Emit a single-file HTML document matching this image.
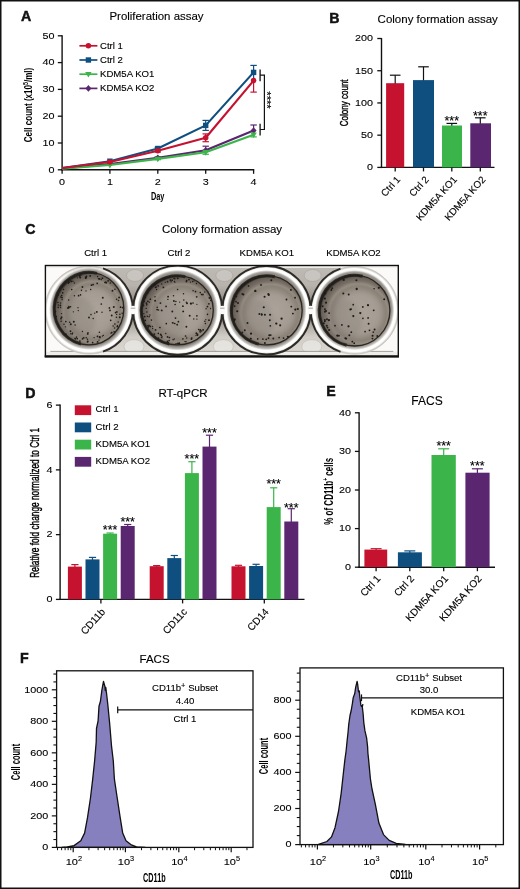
<!DOCTYPE html>
<html><head><meta charset="utf-8"><title>Figure</title>
<style>html,body{margin:0;padding:0;background:#fff}svg{display:block}text{font-family:"Liberation Sans",sans-serif}</style>
</head><body>
<div style="will-change:transform;width:520px;height:889px;overflow:hidden">
<svg width="520" height="889" viewBox="0 0 520 889" font-family='"Liberation Sans", sans-serif'>
<rect x="0.00" y="0.00" width="520.00" height="889.00" fill="#fff" stroke="none" stroke-width="0"/>
<text x="20.9" y="21.2" font-size="14.2" font-weight="bold" fill="#111" stroke="#111" stroke-width="0.45">A</text>
<text x="156.5" y="20.3" font-size="11.45" text-anchor="middle" font-weight="normal" fill="#000" stroke="#000" stroke-width="0.12">Proliferation assay</text>
<line x1="62.10" y1="35.35" x2="62.10" y2="170.50" stroke="#111" stroke-width="1.4" stroke-linecap="butt"/>
<line x1="61.40" y1="169.80" x2="254.25" y2="169.80" stroke="#111" stroke-width="1.4" stroke-linecap="butt"/>
<line x1="57.80" y1="169.80" x2="62.10" y2="169.80" stroke="#111" stroke-width="1.3" stroke-linecap="butt"/>
<text transform="translate(54.40 172.60) scale(1.15 1)" font-size="9.4" text-anchor="end" fill="#000" stroke="#000" stroke-width="0.1">0</text>
<line x1="57.80" y1="143.00" x2="62.10" y2="143.00" stroke="#111" stroke-width="1.3" stroke-linecap="butt"/>
<text transform="translate(54.40 145.80) scale(1.15 1)" font-size="9.4" text-anchor="end" fill="#000" stroke="#000" stroke-width="0.1">10</text>
<line x1="57.80" y1="116.20" x2="62.10" y2="116.20" stroke="#111" stroke-width="1.3" stroke-linecap="butt"/>
<text transform="translate(54.40 119.00) scale(1.15 1)" font-size="9.4" text-anchor="end" fill="#000" stroke="#000" stroke-width="0.1">20</text>
<line x1="57.80" y1="89.40" x2="62.10" y2="89.40" stroke="#111" stroke-width="1.3" stroke-linecap="butt"/>
<text transform="translate(54.40 92.20) scale(1.15 1)" font-size="9.4" text-anchor="end" fill="#000" stroke="#000" stroke-width="0.1">30</text>
<line x1="57.80" y1="62.60" x2="62.10" y2="62.60" stroke="#111" stroke-width="1.3" stroke-linecap="butt"/>
<text transform="translate(54.40 65.40) scale(1.15 1)" font-size="9.4" text-anchor="end" fill="#000" stroke="#000" stroke-width="0.1">40</text>
<line x1="57.80" y1="35.80" x2="62.10" y2="35.80" stroke="#111" stroke-width="1.3" stroke-linecap="butt"/>
<text transform="translate(54.40 38.60) scale(1.15 1)" font-size="9.4" text-anchor="end" fill="#000" stroke="#000" stroke-width="0.1">50</text>
<line x1="62.10" y1="169.80" x2="62.10" y2="173.80" stroke="#111" stroke-width="1.3" stroke-linecap="butt"/>
<text transform="translate(62.10 185.40) scale(1.15 1)" font-size="9.4" text-anchor="middle" fill="#000" stroke="#000" stroke-width="0.1">0</text>
<line x1="109.90" y1="169.80" x2="109.90" y2="173.80" stroke="#111" stroke-width="1.3" stroke-linecap="butt"/>
<text transform="translate(109.90 185.40) scale(1.15 1)" font-size="9.4" text-anchor="middle" fill="#000" stroke="#000" stroke-width="0.1">1</text>
<line x1="157.80" y1="169.80" x2="157.80" y2="173.80" stroke="#111" stroke-width="1.3" stroke-linecap="butt"/>
<text transform="translate(157.80 185.40) scale(1.15 1)" font-size="9.4" text-anchor="middle" fill="#000" stroke="#000" stroke-width="0.1">2</text>
<line x1="205.70" y1="169.80" x2="205.70" y2="173.80" stroke="#111" stroke-width="1.3" stroke-linecap="butt"/>
<text transform="translate(205.70 185.40) scale(1.15 1)" font-size="9.4" text-anchor="middle" fill="#000" stroke="#000" stroke-width="0.1">3</text>
<line x1="253.60" y1="169.80" x2="253.60" y2="173.80" stroke="#111" stroke-width="1.3" stroke-linecap="butt"/>
<text transform="translate(253.60 185.40) scale(1.15 1)" font-size="9.4" text-anchor="middle" fill="#000" stroke="#000" stroke-width="0.1">4</text>
<text x="157.7" y="199.5" font-size="10.5" text-anchor="middle" font-weight="bold" fill="#000" textLength="13.5" lengthAdjust="spacingAndGlyphs">Day</text>
<text x="32" y="105" font-size="11.4" text-anchor="middle" font-weight="bold" fill="#000" transform="rotate(-90 32 105)" textLength="74.4" lengthAdjust="spacingAndGlyphs">Cell count (x10<tspan font-size="7.5" dy="-4.4">5</tspan><tspan dy="4.4">/ml)</tspan></text>
<line x1="157.80" y1="156.90" x2="157.80" y2="157.70" stroke="#5B2670" stroke-width="1.2" stroke-linecap="butt"/>
<line x1="154.60" y1="156.90" x2="161.00" y2="156.90" stroke="#5B2670" stroke-width="1.2" stroke-linecap="butt"/>
<line x1="205.70" y1="146.20" x2="205.70" y2="150.20" stroke="#5B2670" stroke-width="1.2" stroke-linecap="butt"/>
<line x1="202.50" y1="146.20" x2="208.90" y2="146.20" stroke="#5B2670" stroke-width="1.2" stroke-linecap="butt"/>
<line x1="253.60" y1="125.00" x2="253.60" y2="130.60" stroke="#5B2670" stroke-width="1.2" stroke-linecap="butt"/>
<line x1="250.40" y1="125.00" x2="256.80" y2="125.00" stroke="#5B2670" stroke-width="1.2" stroke-linecap="butt"/>
<polyline points="62.1,168.4 109.9,164.1 157.8,157.7 205.7,150.2 253.6,130.6" fill="none" stroke="#5B2670" stroke-width="2.15" stroke-linejoin="round"/>
<polygon points="106.9,164.1 109.9,160.8 112.9,164.1 109.9,167.4" fill="#5B2670"/>
<polygon points="154.8,157.7 157.8,154.4 160.8,157.7 157.8,161.0" fill="#5B2670"/>
<polygon points="202.7,150.2 205.7,146.9 208.7,150.2 205.7,153.5" fill="#5B2670"/>
<polygon points="250.6,130.6 253.6,127.3 256.6,130.6 253.6,133.9" fill="#5B2670"/>
<line x1="157.80" y1="158.90" x2="157.80" y2="159.70" stroke="#3BB54A" stroke-width="1.2" stroke-linecap="butt"/>
<line x1="154.60" y1="159.70" x2="161.00" y2="159.70" stroke="#3BB54A" stroke-width="1.2" stroke-linecap="butt"/>
<line x1="205.70" y1="152.30" x2="205.70" y2="154.30" stroke="#3BB54A" stroke-width="1.2" stroke-linecap="butt"/>
<line x1="202.50" y1="154.30" x2="208.90" y2="154.30" stroke="#3BB54A" stroke-width="1.2" stroke-linecap="butt"/>
<line x1="253.60" y1="134.70" x2="253.60" y2="136.90" stroke="#3BB54A" stroke-width="1.2" stroke-linecap="butt"/>
<line x1="250.40" y1="136.90" x2="256.80" y2="136.90" stroke="#3BB54A" stroke-width="1.2" stroke-linecap="butt"/>
<polyline points="62.1,168.6 109.9,165.0 157.8,158.9 205.7,152.3 253.6,134.7" fill="none" stroke="#3BB54A" stroke-width="2.15" stroke-linejoin="round"/>
<polygon points="106.7,162.8 113.1,162.8 109.9,168.4" fill="#3BB54A"/>
<polygon points="154.6,156.7 161.0,156.7 157.8,162.3" fill="#3BB54A"/>
<polygon points="202.5,150.1 208.9,150.1 205.7,155.7" fill="#3BB54A"/>
<polygon points="250.4,132.5 256.8,132.5 253.6,138.1" fill="#3BB54A"/>
<line x1="157.80" y1="147.30" x2="157.80" y2="148.50" stroke="#0F4F80" stroke-width="1.2" stroke-linecap="butt"/>
<line x1="154.60" y1="147.30" x2="161.00" y2="147.30" stroke="#0F4F80" stroke-width="1.2" stroke-linecap="butt"/>
<line x1="157.80" y1="148.50" x2="157.80" y2="149.70" stroke="#0F4F80" stroke-width="1.2" stroke-linecap="butt"/>
<line x1="154.60" y1="149.70" x2="161.00" y2="149.70" stroke="#0F4F80" stroke-width="1.2" stroke-linecap="butt"/>
<line x1="205.70" y1="120.40" x2="205.70" y2="125.40" stroke="#0F4F80" stroke-width="1.2" stroke-linecap="butt"/>
<line x1="202.50" y1="120.40" x2="208.90" y2="120.40" stroke="#0F4F80" stroke-width="1.2" stroke-linecap="butt"/>
<line x1="205.70" y1="125.40" x2="205.70" y2="130.40" stroke="#0F4F80" stroke-width="1.2" stroke-linecap="butt"/>
<line x1="202.50" y1="130.40" x2="208.90" y2="130.40" stroke="#0F4F80" stroke-width="1.2" stroke-linecap="butt"/>
<line x1="253.60" y1="65.40" x2="253.60" y2="72.40" stroke="#0F4F80" stroke-width="1.2" stroke-linecap="butt"/>
<line x1="250.40" y1="65.40" x2="256.80" y2="65.40" stroke="#0F4F80" stroke-width="1.2" stroke-linecap="butt"/>
<line x1="253.60" y1="72.40" x2="253.60" y2="79.40" stroke="#0F4F80" stroke-width="1.2" stroke-linecap="butt"/>
<polyline points="62.1,168.0 109.9,161.2 157.8,148.5 205.7,125.4 253.6,72.4" fill="none" stroke="#0F4F80" stroke-width="2.15" stroke-linejoin="round"/>
<rect x="107.2" y="158.5" width="5.4" height="5.4" fill="#0F4F80"/>
<rect x="155.1" y="145.8" width="5.4" height="5.4" fill="#0F4F80"/>
<rect x="203.0" y="122.7" width="5.4" height="5.4" fill="#0F4F80"/>
<rect x="250.9" y="69.7" width="5.4" height="5.4" fill="#0F4F80"/>
<line x1="157.80" y1="150.80" x2="157.80" y2="152.00" stroke="#C4122F" stroke-width="1.2" stroke-linecap="butt"/>
<line x1="154.60" y1="152.00" x2="161.00" y2="152.00" stroke="#C4122F" stroke-width="1.2" stroke-linecap="butt"/>
<line x1="157.80" y1="149.60" x2="157.80" y2="150.80" stroke="#C4122F" stroke-width="1.2" stroke-linecap="butt"/>
<line x1="154.60" y1="149.60" x2="161.00" y2="149.60" stroke="#C4122F" stroke-width="1.2" stroke-linecap="butt"/>
<line x1="205.70" y1="137.80" x2="205.70" y2="141.70" stroke="#C4122F" stroke-width="1.2" stroke-linecap="butt"/>
<line x1="202.50" y1="141.70" x2="208.90" y2="141.70" stroke="#C4122F" stroke-width="1.2" stroke-linecap="butt"/>
<line x1="205.70" y1="133.90" x2="205.70" y2="137.80" stroke="#C4122F" stroke-width="1.2" stroke-linecap="butt"/>
<line x1="202.50" y1="133.90" x2="208.90" y2="133.90" stroke="#C4122F" stroke-width="1.2" stroke-linecap="butt"/>
<line x1="253.60" y1="80.60" x2="253.60" y2="92.10" stroke="#C4122F" stroke-width="1.2" stroke-linecap="butt"/>
<line x1="250.40" y1="92.10" x2="256.80" y2="92.10" stroke="#C4122F" stroke-width="1.2" stroke-linecap="butt"/>
<polyline points="62.1,168.0 109.9,162.0 157.8,150.8 205.7,137.8 253.6,80.6" fill="none" stroke="#C4122F" stroke-width="2.15" stroke-linejoin="round"/>
<circle cx="109.9" cy="162.0" r="2.75" fill="#C4122F"/>
<circle cx="157.8" cy="150.8" r="2.75" fill="#C4122F"/>
<circle cx="205.7" cy="137.8" r="2.75" fill="#C4122F"/>
<circle cx="253.6" cy="80.6" r="2.75" fill="#C4122F"/>
<line x1="79.40" y1="45.80" x2="97.40" y2="45.80" stroke="#C4122F" stroke-width="1.7" stroke-linecap="butt"/>
<circle cx="88.4" cy="45.8" r="2.75" fill="#C4122F"/>
<text x="100" y="48.699999999999996" font-size="9.6" text-anchor="start" font-weight="normal" fill="#000" stroke="#000" stroke-width="0.12">Ctrl 1</text>
<line x1="79.40" y1="60.00" x2="97.40" y2="60.00" stroke="#0F4F80" stroke-width="1.7" stroke-linecap="butt"/>
<rect x="85.7" y="57.3" width="5.4" height="5.4" fill="#0F4F80"/>
<text x="100" y="62.9" font-size="9.6" text-anchor="start" font-weight="normal" fill="#000" stroke="#000" stroke-width="0.12">Ctrl 2</text>
<line x1="79.40" y1="74.20" x2="97.40" y2="74.20" stroke="#3BB54A" stroke-width="1.7" stroke-linecap="butt"/>
<polygon points="85.2,72.0 91.6,72.0 88.4,77.6" fill="#3BB54A"/>
<text x="100" y="77.1" font-size="9.6" text-anchor="start" font-weight="normal" fill="#000" stroke="#000" stroke-width="0.12">KDM5A KO1</text>
<line x1="79.40" y1="88.40" x2="97.40" y2="88.40" stroke="#5B2670" stroke-width="1.7" stroke-linecap="butt"/>
<polygon points="85.4,88.4 88.4,85.1 91.4,88.4 88.4,91.7" fill="#5B2670"/>
<text x="100" y="91.3" font-size="9.6" text-anchor="start" font-weight="normal" fill="#000" stroke="#000" stroke-width="0.12">KDM5A KO2</text>
<line x1="260.10" y1="69.40" x2="260.10" y2="81.30" stroke="#111" stroke-width="1.3" stroke-linecap="butt"/>
<line x1="260.10" y1="123.70" x2="260.10" y2="135.40" stroke="#111" stroke-width="1.3" stroke-linecap="butt"/>
<polyline points="260.1,75.2 264.4,75.2 264.4,129.5 260.1,129.5" fill="none" stroke="#111" stroke-width="1.2"/>
<text x="262.9" y="100" font-size="11.2" text-anchor="middle" font-weight="normal" fill="#000" transform="rotate(90 262.9 100)" stroke="#000" stroke-width="0.12">****</text>
<text x="329.2" y="22.8" font-size="14.2" font-weight="bold" fill="#111" stroke="#111" stroke-width="0.45">B</text>
<text x="437.7" y="23.3" font-size="11.5" text-anchor="middle" font-weight="normal" fill="#000" stroke="#000" stroke-width="0.12">Colony formation assay</text>
<line x1="381.50" y1="38.05" x2="381.50" y2="168.10" stroke="#111" stroke-width="1.4" stroke-linecap="butt"/>
<line x1="380.80" y1="167.40" x2="494.50" y2="167.40" stroke="#111" stroke-width="1.4" stroke-linecap="butt"/>
<line x1="377.30" y1="167.40" x2="381.50" y2="167.40" stroke="#111" stroke-width="1.3" stroke-linecap="butt"/>
<text transform="translate(373.00 170.20) scale(1.15 1)" font-size="9.4" text-anchor="end" fill="#000" stroke="#000" stroke-width="0.1">0</text>
<line x1="377.30" y1="135.18" x2="381.50" y2="135.18" stroke="#111" stroke-width="1.3" stroke-linecap="butt"/>
<text transform="translate(373.00 137.98) scale(1.15 1)" font-size="9.4" text-anchor="end" fill="#000" stroke="#000" stroke-width="0.1">50</text>
<line x1="377.30" y1="102.95" x2="381.50" y2="102.95" stroke="#111" stroke-width="1.3" stroke-linecap="butt"/>
<text transform="translate(373.00 105.75) scale(1.15 1)" font-size="9.4" text-anchor="end" fill="#000" stroke="#000" stroke-width="0.1">100</text>
<line x1="377.30" y1="70.73" x2="381.50" y2="70.73" stroke="#111" stroke-width="1.3" stroke-linecap="butt"/>
<text transform="translate(373.00 73.53) scale(1.15 1)" font-size="9.4" text-anchor="end" fill="#000" stroke="#000" stroke-width="0.1">150</text>
<line x1="377.30" y1="38.50" x2="381.50" y2="38.50" stroke="#111" stroke-width="1.3" stroke-linecap="butt"/>
<text transform="translate(373.00 41.30) scale(1.15 1)" font-size="9.4" text-anchor="end" fill="#000" stroke="#000" stroke-width="0.1">200</text>
<line x1="395.20" y1="75.20" x2="395.20" y2="84.20" stroke="#111" stroke-width="1.2" stroke-linecap="butt"/>
<line x1="389.90" y1="75.20" x2="400.50" y2="75.20" stroke="#111" stroke-width="1.2" stroke-linecap="butt"/>
<rect x="386.10" y="83.20" width="18.10" height="84.20" fill="#C4122F" stroke="none" stroke-width="0"/>
<line x1="395.20" y1="167.40" x2="395.20" y2="171.40" stroke="#111" stroke-width="1.3" stroke-linecap="butt"/>
<line x1="423.50" y1="66.80" x2="423.50" y2="81.10" stroke="#111" stroke-width="1.2" stroke-linecap="butt"/>
<line x1="418.20" y1="66.80" x2="428.80" y2="66.80" stroke="#111" stroke-width="1.2" stroke-linecap="butt"/>
<rect x="413.00" y="80.10" width="21.00" height="87.30" fill="#0F4F80" stroke="none" stroke-width="0"/>
<line x1="423.50" y1="167.40" x2="423.50" y2="171.40" stroke="#111" stroke-width="1.3" stroke-linecap="butt"/>
<line x1="451.80" y1="123.40" x2="451.80" y2="126.50" stroke="#111" stroke-width="1.2" stroke-linecap="butt"/>
<line x1="446.50" y1="123.40" x2="457.10" y2="123.40" stroke="#111" stroke-width="1.2" stroke-linecap="butt"/>
<rect x="442.00" y="125.50" width="20.00" height="41.90" fill="#3BB54A" stroke="none" stroke-width="0"/>
<line x1="451.80" y1="167.40" x2="451.80" y2="171.40" stroke="#111" stroke-width="1.3" stroke-linecap="butt"/>
<line x1="480.30" y1="117.80" x2="480.30" y2="124.30" stroke="#111" stroke-width="1.2" stroke-linecap="butt"/>
<line x1="475.00" y1="117.80" x2="485.60" y2="117.80" stroke="#111" stroke-width="1.2" stroke-linecap="butt"/>
<rect x="470.30" y="123.30" width="20.70" height="44.10" fill="#5B2670" stroke="none" stroke-width="0"/>
<line x1="480.30" y1="167.40" x2="480.30" y2="171.40" stroke="#111" stroke-width="1.3" stroke-linecap="butt"/>
<text x="451.8" y="125.2" font-size="12.5" text-anchor="middle" font-weight="normal" fill="#000" stroke="#000" stroke-width="0.12">***</text>
<text x="480.3" y="119.7" font-size="12.5" text-anchor="middle" font-weight="normal" fill="#000" stroke="#000" stroke-width="0.12">***</text>
<text x="348.4" y="102.8" font-size="11.6" text-anchor="middle" font-weight="normal" fill="#000" transform="rotate(-90 348.4 102.8)" textLength="46.8" lengthAdjust="spacingAndGlyphs" stroke="#000" stroke-width="0.4">Colony count</text>
<text x="401.0" y="179.9" font-size="9.8" text-anchor="end" font-weight="normal" fill="#000" transform="rotate(-48 401.0 179.9)" stroke="#000" stroke-width="0.12">Ctrl 1</text>
<text x="429.3" y="179.9" font-size="9.8" text-anchor="end" font-weight="normal" fill="#000" transform="rotate(-48 429.3 179.9)" stroke="#000" stroke-width="0.12">Ctrl 2</text>
<text x="457.6" y="179.9" font-size="9.8" text-anchor="end" font-weight="normal" fill="#000" transform="rotate(-48 457.6 179.9)" stroke="#000" stroke-width="0.12">KDM5A KO1</text>
<text x="486.1" y="179.9" font-size="9.8" text-anchor="end" font-weight="normal" fill="#000" transform="rotate(-48 486.1 179.9)" stroke="#000" stroke-width="0.12">KDM5A KO2</text>
<text x="25.2" y="233.9" font-size="14.2" font-weight="bold" fill="#111" stroke="#111" stroke-width="0.45">C</text>
<text x="222" y="232.8" font-size="11.5" text-anchor="middle" font-weight="normal" fill="#000" stroke="#000" stroke-width="0.12">Colony formation assay</text>
<text x="95.6" y="256.0" font-size="9.6" text-anchor="middle" font-weight="normal" fill="#000" stroke="#000" stroke-width="0.12">Ctrl 1</text>
<text x="179" y="256.0" font-size="9.6" text-anchor="middle" font-weight="normal" fill="#000" stroke="#000" stroke-width="0.12">Ctrl 2</text>
<text x="266.8" y="256.0" font-size="9.6" text-anchor="middle" font-weight="normal" fill="#000" stroke="#000" stroke-width="0.12">KDM5A KO1</text>
<text x="353.5" y="256.0" font-size="9.6" text-anchor="middle" font-weight="normal" fill="#000" stroke="#000" stroke-width="0.12">KDM5A KO2</text>
<defs>
<linearGradient id="pbg" x1="0" y1="0" x2="1" y2="0"><stop offset="0" stop-color="#ffffff"/><stop offset="0.12" stop-color="#f4f2ef"/><stop offset="0.25" stop-color="#b3aea7"/><stop offset="0.5" stop-color="#aaa59e"/><stop offset="0.75" stop-color="#b3aea7"/><stop offset="0.9" stop-color="#f2f0ed"/><stop offset="1" stop-color="#ffffff"/></linearGradient>
<linearGradient id="pbgv" x1="0" y1="0" x2="0" y2="1"><stop offset="0" stop-color="#bebab4"/><stop offset="0.22" stop-color="#b8b3ad"/><stop offset="0.36" stop-color="#9a958e"/><stop offset="0.45" stop-color="#625d58"/><stop offset="0.5" stop-color="#8a857f"/><stop offset="0.55" stop-color="#625d58"/><stop offset="0.64" stop-color="#aaa59e"/><stop offset="0.78" stop-color="#d0ccc6"/><stop offset="1" stop-color="#dedbd6"/></linearGradient>
<linearGradient id="pbg2" x1="0" y1="0" x2="0" y2="1"><stop offset="0" stop-color="#8f8a83" stop-opacity="0.55"/><stop offset="0.35" stop-color="#a09b94" stop-opacity="0.2"/><stop offset="0.6" stop-color="#ffffff" stop-opacity="0.25"/><stop offset="1" stop-color="#ffffff" stop-opacity="0.6"/></linearGradient>
<radialGradient id="wellg" cx="0.55" cy="0.55" r="0.55" fx="0.58" fy="0.52"><stop offset="0" stop-color="#a59c92"/><stop offset="0.45" stop-color="#9a9187"/><stop offset="0.7" stop-color="#8a8177"/><stop offset="0.77" stop-color="#948b81"/><stop offset="0.84" stop-color="#7b7269"/><stop offset="0.95" stop-color="#655d55"/><stop offset="1" stop-color="#2e2823"/></radialGradient>
<radialGradient id="ringg" cx="0.5" cy="0.5" r="0.5"><stop offset="0.80" stop-color="#7a756e"/><stop offset="0.865" stop-color="#bdb9b3"/><stop offset="0.905" stop-color="#ffffff"/><stop offset="0.95" stop-color="#ffffff"/><stop offset="0.985" stop-color="#d2cfc9"/><stop offset="1" stop-color="#b3afa9"/></radialGradient>
<filter id="bl" x="-5%" y="-5%" width="110%" height="110%"><feGaussianBlur stdDeviation="0.55"/></filter>
<filter id="bl2" x="-20%" y="-20%" width="140%" height="140%"><feGaussianBlur stdDeviation="2.2"/></filter>
<filter id="bl3" x="-20%" y="-20%" width="140%" height="140%"><feGaussianBlur stdDeviation="1.1"/></filter>
<clipPath id="pclip"><rect x="45.4" y="265.5" width="352.9" height="91.1"/></clipPath>
</defs>
<g clip-path="url(#pclip)">
<rect x="45.40" y="265.50" width="352.90" height="91.10" fill="#fbfaf8" stroke="none" stroke-width="0"/>
<g filter="url(#bl)">
<rect x="103.00" y="265.50" width="237.60" height="91.10" fill="url(#pbgv)" stroke="none" stroke-width="0"/>
<ellipse cx="135.0" cy="275.5" rx="8.5" ry="6" fill="#d2cec9" stroke="#9a958e" stroke-width="0.6" opacity="0.6"/>
<ellipse cx="134.0" cy="346.6" rx="10" ry="7" fill="#ecebe7" stroke="#b5b0a9" stroke-width="0.6" opacity="0.7"/>
<ellipse cx="224.3" cy="275.5" rx="8.5" ry="6" fill="#d2cec9" stroke="#9a958e" stroke-width="0.6" opacity="0.6"/>
<ellipse cx="223.3" cy="346.6" rx="10" ry="7" fill="#ecebe7" stroke="#b5b0a9" stroke-width="0.6" opacity="0.7"/>
<ellipse cx="312.7" cy="275.5" rx="8.5" ry="6" fill="#d2cec9" stroke="#9a958e" stroke-width="0.6" opacity="0.6"/>
<ellipse cx="311.7" cy="346.6" rx="10" ry="7" fill="#ecebe7" stroke="#b5b0a9" stroke-width="0.6" opacity="0.7"/>
<rect x="45.40" y="265.50" width="352.90" height="2.40" fill="#f2f0ed" stroke="none" stroke-width="0"/>
<rect x="45.40" y="351.60" width="352.90" height="5.00" fill="#efedea" stroke="none" stroke-width="0"/>
<line x1="50.40" y1="351.40" x2="393.30" y2="351.40" stroke="#8f8a83" stroke-width="0.8" stroke-linecap="butt"/>
<circle cx="89.0" cy="310.0" r="44.0" fill="url(#ringg)"/>
<circle cx="177.65" cy="310.2" r="44.6" fill="url(#ringg)"/>
<circle cx="266.5" cy="310.2" r="44.2" fill="url(#ringg)"/>
<circle cx="354.6" cy="310.3" r="43.9" fill="url(#ringg)"/>
<path d="M 103.0 268.3 A 44.0 44.0 0 0 1 103.0 351.7" fill="none" stroke="#2f2b27" stroke-width="1.9"/>
<circle cx="177.65" cy="310.2" r="44.6" fill="none" stroke="#2f2b27" stroke-width="1.9"/>
<circle cx="266.5" cy="310.2" r="44.2" fill="none" stroke="#2f2b27" stroke-width="1.9"/>
<path d="M 340.6 268.7 A 43.9 43.9 0 0 0 340.6 351.9" fill="none" stroke="#2f2b27" stroke-width="1.9"/>
<path d="M 103.0 268.3 A 44.0 44.0 0 1 0 103.0 351.7" fill="none" stroke="#c9c5bf" stroke-width="0.9"/>
<path d="M 340.6 268.7 A 43.9 43.9 0 1 1 340.6 351.9" fill="none" stroke="#c9c5bf" stroke-width="0.9"/>
<ellipse cx="133.0" cy="310" rx="3.2" ry="4.2" fill="#fbfaf8"/>
<line x1="130.82" y1="308.20" x2="135.22" y2="308.20" stroke="#6b665f" stroke-width="0.6" stroke-linecap="butt"/>
<ellipse cx="222.3" cy="310" rx="3.2" ry="4.2" fill="#fbfaf8"/>
<line x1="220.08" y1="308.20" x2="224.47" y2="308.20" stroke="#6b665f" stroke-width="0.6" stroke-linecap="butt"/>
<ellipse cx="310.7" cy="310" rx="3.2" ry="4.2" fill="#fbfaf8"/>
<line x1="308.50" y1="308.20" x2="312.90" y2="308.20" stroke="#6b665f" stroke-width="0.6" stroke-linecap="butt"/>
<ellipse cx="89.0" cy="306.0" rx="36.3" ry="37.400000000000006" fill="#8e8982" filter="url(#bl3)" opacity="0.9"/>
<ellipse cx="89.0" cy="308.6" rx="34.8" ry="36.2" fill="url(#wellg)"/>
<ellipse cx="93.0" cy="311.6" rx="23.799999999999997" ry="24.200000000000003" fill="#bdb7af" opacity="0.32" filter="url(#bl2)"/>
<ellipse cx="77.0" cy="318.6" rx="18.799999999999997" ry="22.200000000000003" fill="#7f7972" opacity="0.28" filter="url(#bl2)"/>
<path d="M 63.2 322.6 A 27.799999999999997 29.200000000000003 0 0 1 95.0 278.9" fill="none" stroke="#6f6a63" stroke-width="0.9" opacity="0.6" filter="url(#bl3)"/>
<ellipse cx="89.0" cy="308.6" rx="34.8" ry="36.2" fill="none" stroke="#2a2521" stroke-width="1.3"/>
<path d="M 81.0 344.0 A 33.9 35.300000000000004 0 0 1 97.0 273.4" fill="none" stroke="#211e1b" stroke-width="3.0" opacity="0.85"/>
<ellipse cx="177.3" cy="307.7" rx="37.5" ry="35.800000000000004" fill="#8e8982" filter="url(#bl3)" opacity="0.9"/>
<ellipse cx="177.3" cy="310.3" rx="36.0" ry="34.6" fill="url(#wellg)"/>
<ellipse cx="181.3" cy="313.3" rx="25.0" ry="22.6" fill="#bdb7af" opacity="0.32" filter="url(#bl2)"/>
<ellipse cx="165.3" cy="320.3" rx="20.0" ry="20.6" fill="#7f7972" opacity="0.28" filter="url(#bl2)"/>
<path d="M 150.3 324.3 A 29.0 27.6 0 0 1 183.3 282.2" fill="none" stroke="#6f6a63" stroke-width="0.9" opacity="0.6" filter="url(#bl3)"/>
<ellipse cx="177.3" cy="310.3" rx="36.0" ry="34.6" fill="none" stroke="#2a2521" stroke-width="1.3"/>
<path d="M 169.3 344.1 A 35.1 33.7 0 0 1 185.3 276.7" fill="none" stroke="#211e1b" stroke-width="3.0" opacity="0.85"/>
<ellipse cx="266.8" cy="307.7" rx="36.9" ry="35.800000000000004" fill="#8e8982" filter="url(#bl3)" opacity="0.9"/>
<ellipse cx="266.8" cy="310.3" rx="35.4" ry="34.6" fill="url(#wellg)"/>
<ellipse cx="270.8" cy="313.3" rx="24.4" ry="22.6" fill="#bdb7af" opacity="0.32" filter="url(#bl2)"/>
<ellipse cx="254.8" cy="320.3" rx="19.4" ry="20.6" fill="#7f7972" opacity="0.28" filter="url(#bl2)"/>
<path d="M 240.4 324.3 A 28.4 27.6 0 0 1 272.8 282.2" fill="none" stroke="#6f6a63" stroke-width="0.9" opacity="0.6" filter="url(#bl3)"/>
<ellipse cx="266.8" cy="310.3" rx="35.4" ry="34.6" fill="none" stroke="#2a2521" stroke-width="1.3"/>
<path d="M 258.8 344.1 A 34.5 33.7 0 0 1 274.8 276.7" fill="none" stroke="#211e1b" stroke-width="3.0" opacity="0.85"/>
<ellipse cx="354.6" cy="308.0" rx="36.8" ry="36.6" fill="#8e8982" filter="url(#bl3)" opacity="0.9"/>
<ellipse cx="354.6" cy="310.6" rx="35.3" ry="35.4" fill="url(#wellg)"/>
<ellipse cx="358.6" cy="313.6" rx="24.299999999999997" ry="23.4" fill="#bdb7af" opacity="0.32" filter="url(#bl2)"/>
<ellipse cx="342.6" cy="320.6" rx="19.299999999999997" ry="21.4" fill="#7f7972" opacity="0.28" filter="url(#bl2)"/>
<path d="M 328.3 324.6 A 28.299999999999997 28.4 0 0 1 360.6 281.7" fill="none" stroke="#6f6a63" stroke-width="0.9" opacity="0.6" filter="url(#bl3)"/>
<ellipse cx="354.6" cy="310.6" rx="35.3" ry="35.4" fill="none" stroke="#2a2521" stroke-width="1.3"/>
<path d="M 346.6 345.2 A 34.4 34.5 0 0 1 362.6 276.2" fill="none" stroke="#211e1b" stroke-width="3.0" opacity="0.85"/>
</g>
<g fill="#1f1c1a" filter="url(#bl)"><circle cx="60.6" cy="297.0" r="0.77"/><circle cx="58.2" cy="307.4" r="0.82"/><circle cx="79.9" cy="341.1" r="0.88"/><circle cx="119.8" cy="317.2" r="0.93"/><circle cx="87.5" cy="341.5" r="0.79"/><circle cx="86.3" cy="337.8" r="0.77"/><circle cx="105.7" cy="282.1" r="0.82"/><circle cx="72.9" cy="281.3" r="0.71"/><circle cx="122.7" cy="307.6" r="0.85"/><circle cx="82.5" cy="338.8" r="0.87"/><circle cx="106.2" cy="282.8" r="0.93"/><circle cx="79.9" cy="275.8" r="0.77"/><circle cx="58.1" cy="294.8" r="0.87"/><circle cx="85.7" cy="278.2" r="0.86"/><circle cx="83.7" cy="337.8" r="0.88"/><circle cx="62.1" cy="297.7" r="0.68"/><circle cx="110.9" cy="333.1" r="0.66"/><circle cx="86.2" cy="277.2" r="0.88"/><circle cx="61.0" cy="318.7" r="0.89"/><circle cx="114.6" cy="328.0" r="0.69"/><circle cx="65.4" cy="326.8" r="0.64"/><circle cx="62.1" cy="299.4" r="0.74"/><circle cx="118.5" cy="300.5" r="0.80"/><circle cx="79.6" cy="275.7" r="0.88"/><circle cx="99.8" cy="336.9" r="0.92"/><circle cx="116.6" cy="299.3" r="0.81"/><circle cx="85.5" cy="277.3" r="0.70"/><circle cx="87.6" cy="341.9" r="0.81"/><circle cx="102.4" cy="336.1" r="0.64"/><circle cx="61.8" cy="297.5" r="0.82"/><circle cx="87.5" cy="339.2" r="0.71"/><circle cx="61.1" cy="321.3" r="0.80"/><circle cx="70.5" cy="331.3" r="0.93"/><circle cx="77.5" cy="277.8" r="0.66"/><circle cx="116.9" cy="311.9" r="0.84"/><circle cx="122.2" cy="313.2" r="0.77"/><circle cx="75.5" cy="339.0" r="0.64"/><circle cx="86.5" cy="276.4" r="0.86"/><circle cx="97.6" cy="276.5" r="0.73"/><circle cx="114.9" cy="289.2" r="0.75"/><circle cx="110.3" cy="283.0" r="0.82"/><circle cx="62.9" cy="293.1" r="0.65"/><circle cx="120.6" cy="307.2" r="0.85"/><circle cx="86.2" cy="277.4" r="0.76"/><circle cx="117.4" cy="325.7" r="0.63"/><circle cx="63.5" cy="289.5" r="0.78"/><circle cx="87.9" cy="341.3" r="0.72"/><circle cx="79.7" cy="276.9" r="0.83"/><circle cx="62.6" cy="292.8" r="0.68"/><circle cx="99.5" cy="278.9" r="0.90"/><circle cx="76.5" cy="337.1" r="0.78"/><circle cx="108.1" cy="280.8" r="0.92"/><circle cx="103.3" cy="335.4" r="0.71"/><circle cx="64.0" cy="324.2" r="0.78"/><circle cx="104.8" cy="282.4" r="0.76"/><circle cx="116.7" cy="314.4" r="0.63"/><circle cx="69.5" cy="282.2" r="0.63"/><circle cx="74.4" cy="283.0" r="0.70"/><circle cx="116.4" cy="317.3" r="0.76"/><circle cx="71.3" cy="281.4" r="0.93"/><circle cx="99.0" cy="340.1" r="0.68"/><circle cx="61.5" cy="313.6" r="0.68"/><circle cx="72.3" cy="333.9" r="0.79"/><circle cx="90.2" cy="275.9" r="0.87"/><circle cx="117.3" cy="326.6" r="0.85"/><circle cx="61.6" cy="317.2" r="0.91"/><circle cx="61.7" cy="295.5" r="0.87"/><circle cx="56.4" cy="316.5" r="0.69"/><circle cx="102.4" cy="278.2" r="0.85"/><circle cx="112.5" cy="290.8" r="0.93"/><circle cx="80.3" cy="277.6" r="0.89"/><circle cx="114.9" cy="324.1" r="0.80"/><circle cx="70.7" cy="280.8" r="0.64"/><circle cx="68.9" cy="282.0" r="0.66"/><circle cx="60.4" cy="305.5" r="0.89"/><circle cx="119.1" cy="297.5" r="0.92"/><circle cx="94.1" cy="337.6" r="0.71"/><circle cx="68.3" cy="283.0" r="0.89"/><circle cx="77.2" cy="338.6" r="0.89"/><circle cx="97.6" cy="341.9" r="0.93"/><circle cx="58.3" cy="305.0" r="0.78"/><circle cx="119.9" cy="314.3" r="0.79"/><circle cx="98.5" cy="278.8" r="0.78"/><circle cx="118.2" cy="322.0" r="0.75"/><circle cx="55.6" cy="311.5" r="0.66"/><circle cx="101.2" cy="279.6" r="0.77"/><circle cx="99.7" cy="337.4" r="0.92"/><circle cx="72.6" cy="333.0" r="0.69"/><circle cx="75.0" cy="338.4" r="0.82"/><circle cx="60.6" cy="307.6" r="0.70"/><circle cx="60.5" cy="302.9" r="0.74"/><circle cx="70.9" cy="333.8" r="0.82"/><circle cx="57.9" cy="302.5" r="0.82"/><circle cx="92.6" cy="342.6" r="0.88"/><circle cx="81.0" cy="275.1" r="0.69"/><circle cx="65.9" cy="334.2" r="0.85"/><circle cx="113.1" cy="326.1" r="0.75"/><circle cx="111.8" cy="332.7" r="0.84"/><circle cx="97.5" cy="336.3" r="0.91"/><circle cx="114.1" cy="331.8" r="0.86"/><circle cx="81.4" cy="290.2" r="0.72"/><circle cx="94.7" cy="313.2" r="0.67"/><circle cx="68.9" cy="306.6" r="0.84"/><circle cx="93.2" cy="318.5" r="0.73"/><circle cx="113.8" cy="307.0" r="0.96"/><circle cx="96.8" cy="311.9" r="0.96"/><circle cx="90.7" cy="289.5" r="0.76"/><circle cx="70.5" cy="306.7" r="0.80"/><circle cx="110.0" cy="310.4" r="0.88"/><circle cx="99.4" cy="332.2" r="0.81"/><circle cx="69.7" cy="322.2" r="0.72"/><circle cx="78.0" cy="307.7" r="0.66"/><circle cx="97.2" cy="283.3" r="0.89"/><circle cx="71.7" cy="289.6" r="0.79"/><circle cx="68.0" cy="308.0" r="0.97"/><circle cx="87.7" cy="333.9" r="0.95"/><circle cx="93.1" cy="284.6" r="0.92"/><circle cx="102.8" cy="297.7" r="0.94"/><circle cx="91.5" cy="285.2" r="0.90"/><circle cx="86.0" cy="290.9" r="0.68"/><circle cx="73.4" cy="311.8" r="0.66"/><circle cx="78.6" cy="295.7" r="0.86"/><circle cx="101.3" cy="304.0" r="0.87"/><circle cx="80.5" cy="294.8" r="0.84"/><circle cx="73.8" cy="321.8" r="0.98"/><circle cx="82.4" cy="287.0" r="0.90"/><circle cx="115.6" cy="312.6" r="0.86"/><circle cx="88.0" cy="332.8" r="0.79"/><circle cx="91.0" cy="314.6" r="0.78"/><circle cx="89.0" cy="317.5" r="0.95"/><circle cx="68.9" cy="307.6" r="0.97"/><circle cx="109.4" cy="307.9" r="0.86"/><circle cx="110.7" cy="320.3" r="0.85"/><circle cx="111.7" cy="315.5" r="0.96"/><circle cx="78.3" cy="310.6" r="0.71"/><circle cx="74.4" cy="295.8" r="0.68"/><circle cx="65.8" cy="321.7" r="0.83"/><circle cx="75.1" cy="324.9" r="0.75"/><circle cx="68.6" cy="300.1" r="0.75"/><circle cx="82.4" cy="331.5" r="0.66"/><circle cx="102.0" cy="312.3" r="0.71"/><circle cx="70.8" cy="324.2" r="0.95"/></g>
<g fill="#1f1c1a" filter="url(#bl)"><circle cx="209.0" cy="320.2" r="0.92"/><circle cx="201.5" cy="294.6" r="0.77"/><circle cx="178.7" cy="343.7" r="0.92"/><circle cx="144.7" cy="316.6" r="0.88"/><circle cx="201.7" cy="331.0" r="0.77"/><circle cx="205.8" cy="319.6" r="0.66"/><circle cx="161.8" cy="284.0" r="0.70"/><circle cx="149.0" cy="325.4" r="0.79"/><circle cx="210.7" cy="300.5" r="0.70"/><circle cx="200.3" cy="292.6" r="0.82"/><circle cx="173.1" cy="339.8" r="0.80"/><circle cx="155.6" cy="287.2" r="0.68"/><circle cx="207.4" cy="306.6" r="0.90"/><circle cx="149.1" cy="316.8" r="0.82"/><circle cx="169.4" cy="337.5" r="0.84"/><circle cx="155.4" cy="287.6" r="0.77"/><circle cx="160.6" cy="334.4" r="0.89"/><circle cx="198.7" cy="329.5" r="0.82"/><circle cx="185.0" cy="341.6" r="0.70"/><circle cx="154.4" cy="334.1" r="0.94"/><circle cx="147.9" cy="301.4" r="0.91"/><circle cx="165.3" cy="282.4" r="0.65"/><circle cx="150.3" cy="299.2" r="0.84"/><circle cx="158.3" cy="333.4" r="0.83"/><circle cx="167.6" cy="336.9" r="0.84"/><circle cx="196.3" cy="333.2" r="0.85"/><circle cx="200.3" cy="330.4" r="0.80"/><circle cx="209.3" cy="298.1" r="0.76"/><circle cx="145.2" cy="320.4" r="0.92"/><circle cx="177.7" cy="343.2" r="0.74"/><circle cx="152.7" cy="328.5" r="0.68"/><circle cx="186.7" cy="280.7" r="0.89"/><circle cx="191.7" cy="338.1" r="0.90"/><circle cx="207.5" cy="314.4" r="0.79"/><circle cx="208.9" cy="303.8" r="0.88"/><circle cx="149.4" cy="302.2" r="0.65"/><circle cx="174.9" cy="282.2" r="0.65"/><circle cx="197.5" cy="335.0" r="0.83"/><circle cx="182.9" cy="338.9" r="0.79"/><circle cx="174.0" cy="278.3" r="0.84"/><circle cx="146.4" cy="303.2" r="0.85"/><circle cx="148.2" cy="327.9" r="0.83"/><circle cx="189.0" cy="279.6" r="0.90"/><circle cx="155.3" cy="284.6" r="0.85"/><circle cx="147.6" cy="325.6" r="0.67"/><circle cx="210.6" cy="308.5" r="0.67"/><circle cx="174.4" cy="281.5" r="0.64"/><circle cx="200.3" cy="329.8" r="0.87"/><circle cx="204.9" cy="321.3" r="0.81"/><circle cx="158.5" cy="337.9" r="0.69"/><circle cx="171.1" cy="281.8" r="0.69"/><circle cx="156.6" cy="289.5" r="0.72"/><circle cx="190.5" cy="282.1" r="0.70"/><circle cx="143.4" cy="305.4" r="0.93"/><circle cx="172.1" cy="280.2" r="0.88"/><circle cx="146.6" cy="305.1" r="0.71"/><circle cx="176.1" cy="343.8" r="0.77"/><circle cx="186.3" cy="281.7" r="0.81"/><circle cx="155.6" cy="329.9" r="0.90"/><circle cx="156.5" cy="287.0" r="0.71"/><circle cx="196.0" cy="335.3" r="0.62"/><circle cx="196.5" cy="283.5" r="0.65"/><circle cx="146.9" cy="312.1" r="0.77"/><circle cx="147.7" cy="293.1" r="0.72"/><circle cx="148.1" cy="326.4" r="0.65"/><circle cx="186.0" cy="341.7" r="0.79"/><circle cx="152.6" cy="326.3" r="0.64"/><circle cx="147.3" cy="316.3" r="0.74"/><circle cx="203.3" cy="329.9" r="0.77"/><circle cx="194.0" cy="281.0" r="0.62"/><circle cx="146.8" cy="304.3" r="0.77"/><circle cx="206.1" cy="308.8" r="0.69"/><circle cx="169.1" cy="340.6" r="0.79"/><circle cx="161.3" cy="335.4" r="0.83"/><circle cx="186.7" cy="338.1" r="0.73"/><circle cx="145.4" cy="297.5" r="0.73"/><circle cx="167.4" cy="341.4" r="0.84"/><circle cx="191.4" cy="339.1" r="0.89"/><circle cx="161.9" cy="337.7" r="0.66"/><circle cx="205.4" cy="323.6" r="0.76"/><circle cx="158.1" cy="285.8" r="0.88"/><circle cx="162.0" cy="336.4" r="0.62"/><circle cx="167.6" cy="281.7" r="0.87"/><circle cx="149.0" cy="326.3" r="0.73"/><circle cx="203.0" cy="329.8" r="0.78"/><circle cx="192.6" cy="281.5" r="0.67"/><circle cx="204.8" cy="291.9" r="0.73"/><circle cx="197.3" cy="334.1" r="0.94"/><circle cx="170.4" cy="280.3" r="0.68"/><circle cx="168.4" cy="342.4" r="0.70"/><circle cx="170.2" cy="280.0" r="0.74"/><circle cx="199.8" cy="331.7" r="0.66"/><circle cx="144.2" cy="301.4" r="0.80"/><circle cx="202.9" cy="294.5" r="0.88"/><circle cx="200.6" cy="332.0" r="0.71"/><circle cx="179.3" cy="343.2" r="0.89"/><circle cx="174.3" cy="338.9" r="0.68"/><circle cx="209.6" cy="297.9" r="0.72"/><circle cx="174.8" cy="278.8" r="0.81"/><circle cx="143.8" cy="313.6" r="0.67"/><circle cx="146.2" cy="308.4" r="0.70"/><circle cx="161.4" cy="337.3" r="0.63"/><circle cx="197.5" cy="335.3" r="0.81"/><circle cx="150.4" cy="326.4" r="0.84"/><circle cx="177.7" cy="278.2" r="0.94"/><circle cx="193.1" cy="290.8" r="0.79"/><circle cx="160.4" cy="303.1" r="0.95"/><circle cx="157.2" cy="307.2" r="0.80"/><circle cx="165.8" cy="333.5" r="0.68"/><circle cx="196.7" cy="296.8" r="0.89"/><circle cx="177.6" cy="289.4" r="0.76"/><circle cx="196.9" cy="319.1" r="0.70"/><circle cx="158.5" cy="310.0" r="0.79"/><circle cx="175.1" cy="304.5" r="0.83"/><circle cx="172.5" cy="322.7" r="0.79"/><circle cx="189.7" cy="315.8" r="0.95"/><circle cx="163.4" cy="287.4" r="0.94"/><circle cx="183.5" cy="293.8" r="0.73"/><circle cx="155.1" cy="300.8" r="0.95"/><circle cx="179.6" cy="302.1" r="0.70"/><circle cx="196.9" cy="304.3" r="0.66"/><circle cx="173.1" cy="323.0" r="0.76"/><circle cx="182.9" cy="306.2" r="0.92"/><circle cx="166.3" cy="323.6" r="0.85"/><circle cx="183.2" cy="311.4" r="0.95"/><circle cx="161.7" cy="310.4" r="0.96"/><circle cx="149.9" cy="314.9" r="0.73"/><circle cx="190.8" cy="303.4" r="0.95"/><circle cx="183.8" cy="300.1" r="0.77"/><circle cx="186.4" cy="326.7" r="0.94"/><circle cx="185.6" cy="336.0" r="0.86"/><circle cx="186.3" cy="302.2" r="0.68"/><circle cx="175.9" cy="301.6" r="0.76"/><circle cx="195.5" cy="291.6" r="0.89"/><circle cx="173.9" cy="301.0" r="0.96"/><circle cx="193.8" cy="318.9" r="0.73"/><circle cx="173.5" cy="295.8" r="0.72"/><circle cx="178.4" cy="321.7" r="0.87"/><circle cx="159.9" cy="327.5" r="0.87"/><circle cx="155.0" cy="296.7" r="0.73"/><circle cx="191.1" cy="303.7" r="0.87"/><circle cx="167.9" cy="299.4" r="0.69"/><circle cx="151.4" cy="320.1" r="0.83"/><circle cx="196.9" cy="315.8" r="0.85"/><circle cx="177.2" cy="324.7" r="0.92"/><circle cx="175.5" cy="318.1" r="0.90"/><circle cx="174.8" cy="323.5" r="0.84"/><circle cx="187.0" cy="303.3" r="0.98"/><circle cx="172.3" cy="311.5" r="0.90"/><circle cx="193.0" cy="303.1" r="0.82"/><circle cx="166.1" cy="306.4" r="0.87"/><circle cx="168.1" cy="296.7" r="0.91"/><circle cx="157.1" cy="309.6" r="0.93"/></g>
<g fill="#1f1c1a" filter="url(#bl)"><circle cx="234.6" cy="306.2" r="0.88"/><circle cx="283.6" cy="338.1" r="0.90"/><circle cx="271.3" cy="280.3" r="1.07"/><circle cx="238.0" cy="303.1" r="0.98"/><circle cx="243.4" cy="294.4" r="1.00"/><circle cx="264.9" cy="343.1" r="0.98"/><circle cx="248.5" cy="285.9" r="0.84"/><circle cx="236.1" cy="296.4" r="1.07"/><circle cx="262.9" cy="339.1" r="0.92"/><circle cx="236.0" cy="301.7" r="0.85"/><circle cx="250.8" cy="338.8" r="1.04"/><circle cx="234.8" cy="319.3" r="0.94"/><circle cx="237.2" cy="311.3" r="1.06"/><circle cx="287.9" cy="336.7" r="1.06"/><circle cx="268.5" cy="338.2" r="0.87"/><circle cx="257.7" cy="338.9" r="0.84"/><circle cx="295.3" cy="309.6" r="1.05"/><circle cx="266.2" cy="339.3" r="0.90"/><circle cx="295.1" cy="297.8" r="0.93"/><circle cx="234.2" cy="320.3" r="1.03"/><circle cx="251.0" cy="333.7" r="1.10"/><circle cx="290.9" cy="289.9" r="0.95"/><circle cx="242.3" cy="332.5" r="0.89"/><circle cx="279.1" cy="337.5" r="0.87"/><circle cx="273.3" cy="338.5" r="0.92"/><circle cx="297.8" cy="309.0" r="1.10"/><circle cx="242.4" cy="294.0" r="0.94"/><circle cx="244.8" cy="330.2" r="0.95"/><circle cx="261.0" cy="285.0" r="0.95"/><circle cx="276.3" cy="323.6" r="1.16"/><circle cx="268.4" cy="294.2" r="1.09"/><circle cx="292.9" cy="313.6" r="0.96"/><circle cx="281.6" cy="318.7" r="1.14"/><circle cx="268.8" cy="295.0" r="1.03"/><circle cx="261.7" cy="314.2" r="0.94"/><circle cx="270.1" cy="314.7" r="1.05"/><circle cx="264.9" cy="314.7" r="1.00"/><circle cx="280.2" cy="325.3" r="1.09"/><circle cx="264.6" cy="296.7" r="1.07"/><circle cx="269.8" cy="320.2" r="0.95"/><circle cx="247.5" cy="323.1" r="0.98"/><circle cx="270.7" cy="335.1" r="0.95"/><circle cx="270.3" cy="325.8" r="0.87"/><circle cx="263.8" cy="307.2" r="1.04"/><circle cx="291.3" cy="306.6" r="0.96"/><circle cx="286.5" cy="299.5" r="0.93"/><circle cx="255.3" cy="290.9" r="1.17"/><circle cx="269.3" cy="335.3" r="1.06"/><circle cx="259.4" cy="313.9" r="0.99"/><circle cx="261.8" cy="314.7" r="0.97"/></g>
<g fill="#1f1c1a" filter="url(#bl)"><circle cx="324.8" cy="320.0" r="0.95"/><circle cx="346.2" cy="338.7" r="0.91"/><circle cx="372.6" cy="335.7" r="1.02"/><circle cx="324.9" cy="321.2" r="0.92"/><circle cx="326.0" cy="311.0" r="0.99"/><circle cx="352.3" cy="341.7" r="0.91"/><circle cx="325.6" cy="293.6" r="0.86"/><circle cx="331.3" cy="290.0" r="0.92"/><circle cx="384.2" cy="299.3" r="1.00"/><circle cx="327.5" cy="327.6" r="0.89"/><circle cx="378.8" cy="287.8" r="1.09"/><circle cx="373.3" cy="332.1" r="0.90"/><circle cx="337.3" cy="335.7" r="0.87"/><circle cx="322.6" cy="306.2" r="0.93"/><circle cx="324.9" cy="311.8" r="0.98"/><circle cx="324.9" cy="298.6" r="1.11"/><circle cx="337.3" cy="335.5" r="0.90"/><circle cx="343.7" cy="279.9" r="1.11"/><circle cx="372.5" cy="338.6" r="0.96"/><circle cx="332.2" cy="288.2" r="0.97"/><circle cx="338.9" cy="335.8" r="0.96"/><circle cx="345.4" cy="338.2" r="1.03"/><circle cx="327.0" cy="319.3" r="0.95"/><circle cx="374.1" cy="288.8" r="0.82"/><circle cx="324.9" cy="309.2" r="0.93"/><circle cx="354.2" cy="343.2" r="0.90"/><circle cx="356.4" cy="280.3" r="1.07"/><circle cx="326.8" cy="325.8" r="1.00"/><circle cx="323.8" cy="323.2" r="1.01"/><circle cx="326.0" cy="302.7" r="1.10"/><circle cx="377.3" cy="336.0" r="0.93"/><circle cx="329.1" cy="330.0" r="1.12"/><circle cx="353.2" cy="304.7" r="0.88"/><circle cx="353.3" cy="316.1" r="1.07"/><circle cx="374.6" cy="329.5" r="0.95"/><circle cx="350.3" cy="309.4" r="0.99"/><circle cx="348.5" cy="326.3" r="1.10"/><circle cx="349.3" cy="335.3" r="0.97"/><circle cx="356.7" cy="289.0" r="1.15"/><circle cx="348.7" cy="294.4" r="1.01"/><circle cx="369.5" cy="330.3" r="0.90"/><circle cx="362.8" cy="306.9" r="0.92"/><circle cx="368.6" cy="323.8" r="0.94"/><circle cx="351.1" cy="309.1" r="0.89"/><circle cx="351.3" cy="332.2" r="0.91"/><circle cx="341.9" cy="324.9" r="0.92"/><circle cx="360.3" cy="313.1" r="1.13"/><circle cx="368.1" cy="317.9" r="0.90"/><circle cx="373.7" cy="310.3" r="0.90"/><circle cx="329.1" cy="313.1" r="0.97"/><circle cx="335.0" cy="325.7" r="0.86"/><circle cx="343.3" cy="293.5" r="1.04"/><circle cx="368.0" cy="305.2" r="1.12"/><circle cx="328.9" cy="320.2" r="1.11"/><circle cx="365.1" cy="331.6" r="0.85"/><circle cx="362.9" cy="318.3" r="0.86"/></g>
</g>
<rect x="45.4" y="265.5" width="352.9" height="91.1" fill="none" stroke="#111" stroke-width="1.4"/>
<line x1="44.70" y1="356.40" x2="399.00" y2="356.40" stroke="#111" stroke-width="2.2" stroke-linecap="butt"/>
<text x="25.3" y="398.1" font-size="14.2" font-weight="bold" fill="#111" stroke="#111" stroke-width="0.45">D</text>
<text x="183" y="397.4" font-size="11.5" text-anchor="middle" font-weight="normal" fill="#000" stroke="#000" stroke-width="0.12">RT-qPCR</text>
<line x1="60.10" y1="404.47" x2="60.10" y2="600.10" stroke="#111" stroke-width="1.4" stroke-linecap="butt"/>
<line x1="59.40" y1="599.40" x2="304.50" y2="599.40" stroke="#111" stroke-width="1.4" stroke-linecap="butt"/>
<line x1="55.90" y1="599.40" x2="60.10" y2="599.40" stroke="#111" stroke-width="1.3" stroke-linecap="butt"/>
<text transform="translate(52.40 602.20) scale(1.15 1)" font-size="9.4" text-anchor="end" fill="#000" stroke="#000" stroke-width="0.1">0</text>
<line x1="55.90" y1="534.64" x2="60.10" y2="534.64" stroke="#111" stroke-width="1.3" stroke-linecap="butt"/>
<text transform="translate(52.40 537.44) scale(1.15 1)" font-size="9.4" text-anchor="end" fill="#000" stroke="#000" stroke-width="0.1">2</text>
<line x1="55.90" y1="469.88" x2="60.10" y2="469.88" stroke="#111" stroke-width="1.3" stroke-linecap="butt"/>
<text transform="translate(52.40 472.68) scale(1.15 1)" font-size="9.4" text-anchor="end" fill="#000" stroke="#000" stroke-width="0.1">4</text>
<line x1="55.90" y1="405.12" x2="60.10" y2="405.12" stroke="#111" stroke-width="1.3" stroke-linecap="butt"/>
<text transform="translate(52.40 407.92) scale(1.15 1)" font-size="9.4" text-anchor="end" fill="#000" stroke="#000" stroke-width="0.1">6</text>
<text x="38.6" y="502.8" font-size="12.2" text-anchor="middle" font-weight="normal" fill="#000" transform="rotate(-90 38.6 502.8)" textLength="149.7" lengthAdjust="spacingAndGlyphs" stroke="#000" stroke-width="0.4">Relative fold change normalized to Ctrl 1</text>
<line x1="74.90" y1="564.60" x2="74.90" y2="567.60" stroke="#C4122F" stroke-width="1.2" stroke-linecap="butt"/>
<line x1="71.30" y1="564.60" x2="78.50" y2="564.60" stroke="#C4122F" stroke-width="1.2" stroke-linecap="butt"/>
<rect x="67.90" y="566.60" width="14.00" height="32.80" fill="#C4122F" stroke="none" stroke-width="0"/>
<line x1="92.50" y1="557.40" x2="92.50" y2="560.40" stroke="#0F4F80" stroke-width="1.2" stroke-linecap="butt"/>
<line x1="88.90" y1="557.40" x2="96.10" y2="557.40" stroke="#0F4F80" stroke-width="1.2" stroke-linecap="butt"/>
<rect x="85.50" y="559.40" width="14.00" height="40.00" fill="#0F4F80" stroke="none" stroke-width="0"/>
<line x1="110.10" y1="533.00" x2="110.10" y2="534.70" stroke="#3BB54A" stroke-width="1.2" stroke-linecap="butt"/>
<line x1="106.50" y1="533.00" x2="113.70" y2="533.00" stroke="#3BB54A" stroke-width="1.2" stroke-linecap="butt"/>
<rect x="103.10" y="533.70" width="14.00" height="65.70" fill="#3BB54A" stroke="none" stroke-width="0"/>
<text x="110.10000000000001" y="534.3" font-size="12.5" text-anchor="middle" font-weight="normal" fill="#000" stroke="#000" stroke-width="0.12">***</text>
<line x1="127.70" y1="524.50" x2="127.70" y2="527.00" stroke="#5B2670" stroke-width="1.2" stroke-linecap="butt"/>
<line x1="124.10" y1="524.50" x2="131.30" y2="524.50" stroke="#5B2670" stroke-width="1.2" stroke-linecap="butt"/>
<rect x="120.70" y="526.00" width="14.00" height="73.40" fill="#5B2670" stroke="none" stroke-width="0"/>
<text x="127.70000000000002" y="526.3" font-size="12.5" text-anchor="middle" font-weight="normal" fill="#000" stroke="#000" stroke-width="0.12">***</text>
<line x1="156.70" y1="565.60" x2="156.70" y2="567.20" stroke="#C4122F" stroke-width="1.2" stroke-linecap="butt"/>
<line x1="153.10" y1="565.60" x2="160.30" y2="565.60" stroke="#C4122F" stroke-width="1.2" stroke-linecap="butt"/>
<rect x="149.70" y="566.20" width="14.00" height="33.20" fill="#C4122F" stroke="none" stroke-width="0"/>
<line x1="174.30" y1="555.50" x2="174.30" y2="559.10" stroke="#0F4F80" stroke-width="1.2" stroke-linecap="butt"/>
<line x1="170.70" y1="555.50" x2="177.90" y2="555.50" stroke="#0F4F80" stroke-width="1.2" stroke-linecap="butt"/>
<rect x="167.30" y="558.10" width="14.00" height="41.30" fill="#0F4F80" stroke="none" stroke-width="0"/>
<line x1="191.90" y1="461.70" x2="191.90" y2="474.10" stroke="#3BB54A" stroke-width="1.2" stroke-linecap="butt"/>
<line x1="188.30" y1="461.70" x2="195.50" y2="461.70" stroke="#3BB54A" stroke-width="1.2" stroke-linecap="butt"/>
<rect x="184.90" y="473.10" width="14.00" height="126.30" fill="#3BB54A" stroke="none" stroke-width="0"/>
<text x="191.89999999999998" y="463.09999999999997" font-size="12.5" text-anchor="middle" font-weight="normal" fill="#000" stroke="#000" stroke-width="0.12">***</text>
<line x1="209.50" y1="435.20" x2="209.50" y2="447.60" stroke="#5B2670" stroke-width="1.2" stroke-linecap="butt"/>
<line x1="205.90" y1="435.20" x2="213.10" y2="435.20" stroke="#5B2670" stroke-width="1.2" stroke-linecap="butt"/>
<rect x="202.50" y="446.60" width="14.00" height="152.80" fill="#5B2670" stroke="none" stroke-width="0"/>
<text x="209.5" y="436.9" font-size="12.5" text-anchor="middle" font-weight="normal" fill="#000" stroke="#000" stroke-width="0.12">***</text>
<line x1="238.50" y1="565.30" x2="238.50" y2="567.30" stroke="#C4122F" stroke-width="1.2" stroke-linecap="butt"/>
<line x1="234.90" y1="565.30" x2="242.10" y2="565.30" stroke="#C4122F" stroke-width="1.2" stroke-linecap="butt"/>
<rect x="231.50" y="566.30" width="14.00" height="33.10" fill="#C4122F" stroke="none" stroke-width="0"/>
<line x1="256.10" y1="564.30" x2="256.10" y2="567.00" stroke="#0F4F80" stroke-width="1.2" stroke-linecap="butt"/>
<line x1="252.50" y1="564.30" x2="259.70" y2="564.30" stroke="#0F4F80" stroke-width="1.2" stroke-linecap="butt"/>
<rect x="249.10" y="566.00" width="14.00" height="33.40" fill="#0F4F80" stroke="none" stroke-width="0"/>
<line x1="273.70" y1="487.80" x2="273.70" y2="508.10" stroke="#3BB54A" stroke-width="1.2" stroke-linecap="butt"/>
<line x1="270.10" y1="487.80" x2="277.30" y2="487.80" stroke="#3BB54A" stroke-width="1.2" stroke-linecap="butt"/>
<rect x="266.70" y="507.10" width="14.00" height="92.30" fill="#3BB54A" stroke="none" stroke-width="0"/>
<text x="273.7" y="487.90000000000003" font-size="12.5" text-anchor="middle" font-weight="normal" fill="#000" stroke="#000" stroke-width="0.12">***</text>
<line x1="291.30" y1="508.70" x2="291.30" y2="522.50" stroke="#5B2670" stroke-width="1.2" stroke-linecap="butt"/>
<line x1="287.70" y1="508.70" x2="294.90" y2="508.70" stroke="#5B2670" stroke-width="1.2" stroke-linecap="butt"/>
<rect x="284.30" y="521.50" width="14.00" height="77.90" fill="#5B2670" stroke="none" stroke-width="0"/>
<text x="291.3" y="512.0999999999999" font-size="12.5" text-anchor="middle" font-weight="normal" fill="#000" stroke="#000" stroke-width="0.12">***</text>
<line x1="100.90" y1="599.40" x2="100.90" y2="603.40" stroke="#111" stroke-width="1.3" stroke-linecap="butt"/>
<text x="105.9" y="612.1999999999999" font-size="10.2" text-anchor="end" font-weight="normal" fill="#000" transform="rotate(-48 105.9 612.1999999999999)" stroke="#000" stroke-width="0.12">CD11b</text>
<line x1="182.60" y1="599.40" x2="182.60" y2="603.40" stroke="#111" stroke-width="1.3" stroke-linecap="butt"/>
<text x="187.6" y="612.1999999999999" font-size="10.2" text-anchor="end" font-weight="normal" fill="#000" transform="rotate(-48 187.6 612.1999999999999)" stroke="#000" stroke-width="0.12">CD11c</text>
<line x1="264.30" y1="599.40" x2="264.30" y2="603.40" stroke="#111" stroke-width="1.3" stroke-linecap="butt"/>
<text x="269.3" y="612.1999999999999" font-size="10.2" text-anchor="end" font-weight="normal" fill="#000" transform="rotate(-48 269.3 612.1999999999999)" stroke="#000" stroke-width="0.12">CD14</text>
<rect x="74.80" y="405.30" width="16.40" height="9.80" fill="#C4122F" stroke="none" stroke-width="0"/>
<text x="95.6" y="412.4" font-size="9.6" text-anchor="start" font-weight="normal" fill="#000" stroke="#000" stroke-width="0.12">Ctrl 1</text>
<rect x="74.80" y="422.50" width="16.40" height="9.80" fill="#0F4F80" stroke="none" stroke-width="0"/>
<text x="95.6" y="429.59999999999997" font-size="9.6" text-anchor="start" font-weight="normal" fill="#000" stroke="#000" stroke-width="0.12">Ctrl 2</text>
<rect x="74.80" y="439.70" width="16.40" height="9.80" fill="#3BB54A" stroke="none" stroke-width="0"/>
<text x="95.6" y="446.79999999999995" font-size="9.6" text-anchor="start" font-weight="normal" fill="#000" stroke="#000" stroke-width="0.12">KDM5A KO1</text>
<rect x="74.80" y="456.90" width="16.40" height="9.80" fill="#5B2670" stroke="none" stroke-width="0"/>
<text x="95.6" y="463.99999999999994" font-size="9.6" text-anchor="start" font-weight="normal" fill="#000" stroke="#000" stroke-width="0.12">KDM5A KO2</text>
<text x="326.3" y="396.0" font-size="14.2" font-weight="bold" fill="#111" stroke="#111" stroke-width="0.45">E</text>
<text x="427" y="404.7" font-size="12" text-anchor="middle" font-weight="normal" fill="#000" stroke="#000" stroke-width="0.12">FACS</text>
<line x1="359.10" y1="412.15" x2="359.10" y2="567.90" stroke="#111" stroke-width="1.4" stroke-linecap="butt"/>
<line x1="358.40" y1="567.20" x2="495.00" y2="567.20" stroke="#111" stroke-width="1.4" stroke-linecap="butt"/>
<line x1="354.90" y1="567.20" x2="359.10" y2="567.20" stroke="#111" stroke-width="1.3" stroke-linecap="butt"/>
<text transform="translate(351.00 570.00) scale(1.15 1)" font-size="9.4" text-anchor="end" fill="#000" stroke="#000" stroke-width="0.1">0</text>
<line x1="354.90" y1="528.60" x2="359.10" y2="528.60" stroke="#111" stroke-width="1.3" stroke-linecap="butt"/>
<text transform="translate(351.00 531.40) scale(1.15 1)" font-size="9.4" text-anchor="end" fill="#000" stroke="#000" stroke-width="0.1">10</text>
<line x1="354.90" y1="490.00" x2="359.10" y2="490.00" stroke="#111" stroke-width="1.3" stroke-linecap="butt"/>
<text transform="translate(351.00 492.80) scale(1.15 1)" font-size="9.4" text-anchor="end" fill="#000" stroke="#000" stroke-width="0.1">20</text>
<line x1="354.90" y1="451.40" x2="359.10" y2="451.40" stroke="#111" stroke-width="1.3" stroke-linecap="butt"/>
<text transform="translate(351.00 454.20) scale(1.15 1)" font-size="9.4" text-anchor="end" fill="#000" stroke="#000" stroke-width="0.1">30</text>
<line x1="354.90" y1="412.80" x2="359.10" y2="412.80" stroke="#111" stroke-width="1.3" stroke-linecap="butt"/>
<text transform="translate(351.00 415.60) scale(1.15 1)" font-size="9.4" text-anchor="end" fill="#000" stroke="#000" stroke-width="0.1">40</text>
<text x="332.7" y="491.3" font-size="12.2" text-anchor="middle" font-weight="bold" fill="#000" transform="rotate(-90 332.7 491.3)" textLength="66.9" lengthAdjust="spacingAndGlyphs">% of CD11b<tspan font-size="7.5" dy="-4.2">+</tspan><tspan dy="4.2"> cells</tspan></text>
<line x1="376.10" y1="548.70" x2="376.10" y2="550.60" stroke="#C4122F" stroke-width="1.2" stroke-linecap="butt"/>
<line x1="370.60" y1="548.70" x2="381.60" y2="548.70" stroke="#C4122F" stroke-width="1.2" stroke-linecap="butt"/>
<rect x="364.40" y="549.60" width="22.80" height="17.60" fill="#C4122F" stroke="none" stroke-width="0"/>
<line x1="376.10" y1="567.20" x2="376.10" y2="571.20" stroke="#111" stroke-width="1.3" stroke-linecap="butt"/>
<line x1="409.80" y1="550.90" x2="409.80" y2="553.30" stroke="#0F4F80" stroke-width="1.2" stroke-linecap="butt"/>
<line x1="404.30" y1="550.90" x2="415.30" y2="550.90" stroke="#0F4F80" stroke-width="1.2" stroke-linecap="butt"/>
<rect x="397.90" y="552.30" width="24.00" height="14.90" fill="#0F4F80" stroke="none" stroke-width="0"/>
<line x1="409.80" y1="567.20" x2="409.80" y2="571.20" stroke="#111" stroke-width="1.3" stroke-linecap="butt"/>
<line x1="443.70" y1="448.80" x2="443.70" y2="456.00" stroke="#3BB54A" stroke-width="1.2" stroke-linecap="butt"/>
<line x1="438.20" y1="448.80" x2="449.20" y2="448.80" stroke="#3BB54A" stroke-width="1.2" stroke-linecap="butt"/>
<rect x="431.50" y="455.00" width="24.30" height="112.20" fill="#3BB54A" stroke="none" stroke-width="0"/>
<line x1="443.70" y1="567.20" x2="443.70" y2="571.20" stroke="#111" stroke-width="1.3" stroke-linecap="butt"/>
<text x="443.7" y="450.3" font-size="12.5" text-anchor="middle" font-weight="normal" fill="#000" stroke="#000" stroke-width="0.12">***</text>
<line x1="477.40" y1="468.80" x2="477.40" y2="473.70" stroke="#5B2670" stroke-width="1.2" stroke-linecap="butt"/>
<line x1="471.90" y1="468.80" x2="482.90" y2="468.80" stroke="#5B2670" stroke-width="1.2" stroke-linecap="butt"/>
<rect x="465.40" y="472.70" width="24.20" height="94.50" fill="#5B2670" stroke="none" stroke-width="0"/>
<line x1="477.40" y1="567.20" x2="477.40" y2="571.20" stroke="#111" stroke-width="1.3" stroke-linecap="butt"/>
<text x="477.4" y="470.3" font-size="12.5" text-anchor="middle" font-weight="normal" fill="#000" stroke="#000" stroke-width="0.12">***</text>
<text x="381.1" y="579.0" font-size="10.2" text-anchor="end" font-weight="normal" fill="#000" transform="rotate(-48 381.1 579.0)" stroke="#000" stroke-width="0.12">Ctrl 1</text>
<text x="414.8" y="579.0" font-size="10.2" text-anchor="end" font-weight="normal" fill="#000" transform="rotate(-48 414.8 579.0)" stroke="#000" stroke-width="0.12">Ctrl 2</text>
<text x="448.7" y="579.0" font-size="10.2" text-anchor="end" font-weight="normal" fill="#000" transform="rotate(-48 448.7 579.0)" stroke="#000" stroke-width="0.12">KDM5A KO1</text>
<text x="482.4" y="579.0" font-size="10.2" text-anchor="end" font-weight="normal" fill="#000" transform="rotate(-48 482.4 579.0)" stroke="#000" stroke-width="0.12">KDM5A KO2</text>
<text x="19.9" y="662.6" font-size="14.2" font-weight="bold" fill="#111" stroke="#111" stroke-width="0.45">F</text>
<text x="154.6" y="662.8" font-size="11.5" text-anchor="middle" font-weight="normal" fill="#000" stroke="#000" stroke-width="0.12">FACS</text>
<path d="M 62.0 847.4 L 67.3 847.0 L 74.0 845.6 L 80.8 840.8 L 84.6 833.1 L 87.5 817.7 L 90.4 798.5 L 92.7 779.2 L 94.6 761.0 L 96.2 742.0 L 96.5 728.5 L 98.1 720.8 L 99.0 706.3 L 100.4 701.5 L 101.9 690.0 L 103.5 681.3 L 104.9 686.5 L 105.3 690.5 L 105.8 687.5 L 106.5 693.0 L 107.7 703.5 L 109.6 722.7 L 111.5 745.8 L 113.3 761.0 L 114.4 779.2 L 117.3 798.5 L 120.2 817.7 L 122.7 833.1 L 126.0 840.8 L 130.8 844.6 L 136.5 846.8 L 145.0 847.4 Z" fill="#8680BE" stroke="#111" stroke-width="1.3" stroke-linejoin="round"/>
<rect x="56.60" y="670.80" width="196.40" height="176.60" fill="none" stroke="#111" stroke-width="1.3"/>
<line x1="51.80" y1="847.40" x2="56.60" y2="847.40" stroke="#111" stroke-width="1.2" stroke-linecap="butt"/>
<text transform="translate(48.20 850.20) scale(1.15 1)" font-size="9.4" text-anchor="end" fill="#000" stroke="#000" stroke-width="0.1">0</text>
<line x1="53.40" y1="839.52" x2="56.60" y2="839.52" stroke="#111" stroke-width="1.1" stroke-linecap="butt"/>
<line x1="53.40" y1="831.64" x2="56.60" y2="831.64" stroke="#111" stroke-width="1.1" stroke-linecap="butt"/>
<line x1="53.40" y1="823.76" x2="56.60" y2="823.76" stroke="#111" stroke-width="1.1" stroke-linecap="butt"/>
<line x1="51.80" y1="815.88" x2="56.60" y2="815.88" stroke="#111" stroke-width="1.2" stroke-linecap="butt"/>
<text transform="translate(48.20 818.68) scale(1.15 1)" font-size="9.4" text-anchor="end" fill="#000" stroke="#000" stroke-width="0.1">200</text>
<line x1="53.40" y1="808.00" x2="56.60" y2="808.00" stroke="#111" stroke-width="1.1" stroke-linecap="butt"/>
<line x1="53.40" y1="800.12" x2="56.60" y2="800.12" stroke="#111" stroke-width="1.1" stroke-linecap="butt"/>
<line x1="53.40" y1="792.24" x2="56.60" y2="792.24" stroke="#111" stroke-width="1.1" stroke-linecap="butt"/>
<line x1="51.80" y1="784.36" x2="56.60" y2="784.36" stroke="#111" stroke-width="1.2" stroke-linecap="butt"/>
<text transform="translate(48.20 787.16) scale(1.15 1)" font-size="9.4" text-anchor="end" fill="#000" stroke="#000" stroke-width="0.1">400</text>
<line x1="53.40" y1="776.48" x2="56.60" y2="776.48" stroke="#111" stroke-width="1.1" stroke-linecap="butt"/>
<line x1="53.40" y1="768.60" x2="56.60" y2="768.60" stroke="#111" stroke-width="1.1" stroke-linecap="butt"/>
<line x1="53.40" y1="760.72" x2="56.60" y2="760.72" stroke="#111" stroke-width="1.1" stroke-linecap="butt"/>
<line x1="51.80" y1="752.84" x2="56.60" y2="752.84" stroke="#111" stroke-width="1.2" stroke-linecap="butt"/>
<text transform="translate(48.20 755.64) scale(1.15 1)" font-size="9.4" text-anchor="end" fill="#000" stroke="#000" stroke-width="0.1">600</text>
<line x1="53.40" y1="744.96" x2="56.60" y2="744.96" stroke="#111" stroke-width="1.1" stroke-linecap="butt"/>
<line x1="53.40" y1="737.08" x2="56.60" y2="737.08" stroke="#111" stroke-width="1.1" stroke-linecap="butt"/>
<line x1="53.40" y1="729.20" x2="56.60" y2="729.20" stroke="#111" stroke-width="1.1" stroke-linecap="butt"/>
<line x1="51.80" y1="721.32" x2="56.60" y2="721.32" stroke="#111" stroke-width="1.2" stroke-linecap="butt"/>
<text transform="translate(48.20 724.12) scale(1.15 1)" font-size="9.4" text-anchor="end" fill="#000" stroke="#000" stroke-width="0.1">800</text>
<line x1="53.40" y1="713.44" x2="56.60" y2="713.44" stroke="#111" stroke-width="1.1" stroke-linecap="butt"/>
<line x1="53.40" y1="705.56" x2="56.60" y2="705.56" stroke="#111" stroke-width="1.1" stroke-linecap="butt"/>
<line x1="53.40" y1="697.68" x2="56.60" y2="697.68" stroke="#111" stroke-width="1.1" stroke-linecap="butt"/>
<line x1="51.80" y1="689.80" x2="56.60" y2="689.80" stroke="#111" stroke-width="1.2" stroke-linecap="butt"/>
<text transform="translate(48.20 692.60) scale(1.15 1)" font-size="9.4" text-anchor="end" fill="#000" stroke="#000" stroke-width="0.1">1000</text>
<line x1="53.40" y1="681.92" x2="56.60" y2="681.92" stroke="#111" stroke-width="1.1" stroke-linecap="butt"/>
<line x1="53.40" y1="674.04" x2="56.60" y2="674.04" stroke="#111" stroke-width="1.1" stroke-linecap="butt"/>
<line x1="57.49" y1="847.40" x2="57.49" y2="850.20" stroke="#111" stroke-width="1.0" stroke-linecap="butt"/>
<line x1="61.62" y1="847.40" x2="61.62" y2="850.20" stroke="#111" stroke-width="1.0" stroke-linecap="butt"/>
<line x1="65.11" y1="847.40" x2="65.11" y2="850.20" stroke="#111" stroke-width="1.0" stroke-linecap="butt"/>
<line x1="68.14" y1="847.40" x2="68.14" y2="850.20" stroke="#111" stroke-width="1.0" stroke-linecap="butt"/>
<line x1="70.81" y1="847.40" x2="70.81" y2="850.20" stroke="#111" stroke-width="1.0" stroke-linecap="butt"/>
<line x1="73.20" y1="847.40" x2="73.20" y2="852.20" stroke="#111" stroke-width="1.2" stroke-linecap="butt"/>
<text transform="translate(73.80 865.00) scale(1.15 1)" font-size="9.6" text-anchor="middle" fill="#000" stroke="#000" stroke-width="0.1">10<tspan font-size="6.4" dy="-3.6">2</tspan></text>
<line x1="88.91" y1="847.40" x2="88.91" y2="850.20" stroke="#111" stroke-width="1.0" stroke-linecap="butt"/>
<line x1="98.11" y1="847.40" x2="98.11" y2="850.20" stroke="#111" stroke-width="1.0" stroke-linecap="butt"/>
<line x1="104.63" y1="847.40" x2="104.63" y2="850.20" stroke="#111" stroke-width="1.0" stroke-linecap="butt"/>
<line x1="109.69" y1="847.40" x2="109.69" y2="850.20" stroke="#111" stroke-width="1.0" stroke-linecap="butt"/>
<line x1="113.82" y1="847.40" x2="113.82" y2="850.20" stroke="#111" stroke-width="1.0" stroke-linecap="butt"/>
<line x1="117.31" y1="847.40" x2="117.31" y2="850.20" stroke="#111" stroke-width="1.0" stroke-linecap="butt"/>
<line x1="120.34" y1="847.40" x2="120.34" y2="850.20" stroke="#111" stroke-width="1.0" stroke-linecap="butt"/>
<line x1="123.01" y1="847.40" x2="123.01" y2="850.20" stroke="#111" stroke-width="1.0" stroke-linecap="butt"/>
<line x1="125.40" y1="847.40" x2="125.40" y2="852.20" stroke="#111" stroke-width="1.2" stroke-linecap="butt"/>
<text transform="translate(126.00 865.00) scale(1.15 1)" font-size="9.6" text-anchor="middle" fill="#000" stroke="#000" stroke-width="0.1">10<tspan font-size="6.4" dy="-3.6">3</tspan></text>
<line x1="141.48" y1="847.40" x2="141.48" y2="850.20" stroke="#111" stroke-width="1.0" stroke-linecap="butt"/>
<line x1="150.88" y1="847.40" x2="150.88" y2="850.20" stroke="#111" stroke-width="1.0" stroke-linecap="butt"/>
<line x1="157.55" y1="847.40" x2="157.55" y2="850.20" stroke="#111" stroke-width="1.0" stroke-linecap="butt"/>
<line x1="162.72" y1="847.40" x2="162.72" y2="850.20" stroke="#111" stroke-width="1.0" stroke-linecap="butt"/>
<line x1="166.95" y1="847.40" x2="166.95" y2="850.20" stroke="#111" stroke-width="1.0" stroke-linecap="butt"/>
<line x1="170.53" y1="847.40" x2="170.53" y2="850.20" stroke="#111" stroke-width="1.0" stroke-linecap="butt"/>
<line x1="173.63" y1="847.40" x2="173.63" y2="850.20" stroke="#111" stroke-width="1.0" stroke-linecap="butt"/>
<line x1="176.36" y1="847.40" x2="176.36" y2="850.20" stroke="#111" stroke-width="1.0" stroke-linecap="butt"/>
<line x1="178.80" y1="847.40" x2="178.80" y2="852.20" stroke="#111" stroke-width="1.2" stroke-linecap="butt"/>
<text transform="translate(179.40 865.00) scale(1.15 1)" font-size="9.6" text-anchor="middle" fill="#000" stroke="#000" stroke-width="0.1">10<tspan font-size="6.4" dy="-3.6">4</tspan></text>
<line x1="194.57" y1="847.40" x2="194.57" y2="850.20" stroke="#111" stroke-width="1.0" stroke-linecap="butt"/>
<line x1="203.80" y1="847.40" x2="203.80" y2="850.20" stroke="#111" stroke-width="1.0" stroke-linecap="butt"/>
<line x1="210.35" y1="847.40" x2="210.35" y2="850.20" stroke="#111" stroke-width="1.0" stroke-linecap="butt"/>
<line x1="215.43" y1="847.40" x2="215.43" y2="850.20" stroke="#111" stroke-width="1.0" stroke-linecap="butt"/>
<line x1="219.58" y1="847.40" x2="219.58" y2="850.20" stroke="#111" stroke-width="1.0" stroke-linecap="butt"/>
<line x1="223.08" y1="847.40" x2="223.08" y2="850.20" stroke="#111" stroke-width="1.0" stroke-linecap="butt"/>
<line x1="226.12" y1="847.40" x2="226.12" y2="850.20" stroke="#111" stroke-width="1.0" stroke-linecap="butt"/>
<line x1="228.80" y1="847.40" x2="228.80" y2="850.20" stroke="#111" stroke-width="1.0" stroke-linecap="butt"/>
<line x1="231.20" y1="847.40" x2="231.20" y2="852.20" stroke="#111" stroke-width="1.2" stroke-linecap="butt"/>
<text transform="translate(231.80 865.00) scale(1.15 1)" font-size="9.6" text-anchor="middle" fill="#000" stroke="#000" stroke-width="0.1">10<tspan font-size="6.4" dy="-3.6">5</tspan></text>
<line x1="246.97" y1="847.40" x2="246.97" y2="850.20" stroke="#111" stroke-width="1.0" stroke-linecap="butt"/>
<line x1="117.70" y1="709.80" x2="253.00" y2="709.80" stroke="#111" stroke-width="1.2" stroke-linecap="butt"/>
<line x1="117.70" y1="706.40" x2="117.70" y2="713.20" stroke="#111" stroke-width="1.2" stroke-linecap="butt"/>
<text x="185" y="691.3" font-size="9.6" text-anchor="middle" font-weight="normal" fill="#000" stroke="#000" stroke-width="0.12">CD11b<tspan font-size="7.5" dy="-3.3">+</tspan><tspan dy="3.3"> Subset</tspan></text>
<text x="185" y="704.4" font-size="9.6" text-anchor="middle" font-weight="normal" fill="#000" stroke="#000" stroke-width="0.12">4.40</text>
<text x="185" y="722" font-size="9.6" text-anchor="middle" font-weight="normal" fill="#000" stroke="#000" stroke-width="0.12">Ctrl 1</text>
<text x="20.0" y="762" font-size="12.4" text-anchor="middle" font-weight="bold" fill="#000" transform="rotate(-90 20.0 762)" textLength="36.3" lengthAdjust="spacingAndGlyphs">Cell count</text>
<text x="154.39999999999998" y="881.6999999999999" font-size="12.4" text-anchor="middle" font-weight="bold" fill="#000" textLength="22.6" lengthAdjust="spacingAndGlyphs">CD11b</text>
<path d="M 318.0 844.6 L 320.0 843.8 L 326.9 841.5 L 331.5 836.9 L 335.0 827.7 L 338.5 811.5 L 341.2 793.1 L 343.5 772.0 L 344.9 759.6 L 346.1 751.0 L 347.1 740.9 L 348.0 732.8 L 348.7 724.7 L 350.0 715.5 L 351.2 710.5 L 352.4 703.4 L 353.2 697.8 L 354.7 693.8 L 355.7 687.2 L 357.1 681.3 L 357.8 685.2 L 358.5 691.8 L 359.3 691.0 L 359.6 695.3 L 360.3 700.4 L 360.8 704.9 L 361.5 706.4 L 362.8 704.6 L 362.3 706.9 L 363.1 713.5 L 363.8 722.6 L 364.9 730.7 L 366.6 737.8 L 367.6 746.9 L 367.9 753.0 L 368.6 759.6 L 370.4 778.9 L 371.9 788.5 L 375.4 804.6 L 378.9 823.1 L 383.5 834.6 L 389.2 840.4 L 396.2 843.4 L 405.4 844.4 L 412.0 844.6 Z" fill="#8680BE" stroke="#111" stroke-width="1.3" stroke-linejoin="round"/>
<rect x="300.00" y="667.90" width="203.40" height="176.70" fill="none" stroke="#111" stroke-width="1.3"/>
<line x1="295.20" y1="844.60" x2="300.00" y2="844.60" stroke="#111" stroke-width="1.2" stroke-linecap="butt"/>
<text transform="translate(291.60 847.40) scale(1.15 1)" font-size="9.4" text-anchor="end" fill="#000" stroke="#000" stroke-width="0.1">0</text>
<line x1="296.80" y1="835.58" x2="300.00" y2="835.58" stroke="#111" stroke-width="1.1" stroke-linecap="butt"/>
<line x1="296.80" y1="826.55" x2="300.00" y2="826.55" stroke="#111" stroke-width="1.1" stroke-linecap="butt"/>
<line x1="296.80" y1="817.52" x2="300.00" y2="817.52" stroke="#111" stroke-width="1.1" stroke-linecap="butt"/>
<line x1="295.20" y1="808.50" x2="300.00" y2="808.50" stroke="#111" stroke-width="1.2" stroke-linecap="butt"/>
<text transform="translate(291.60 811.30) scale(1.15 1)" font-size="9.4" text-anchor="end" fill="#000" stroke="#000" stroke-width="0.1">200</text>
<line x1="296.80" y1="799.48" x2="300.00" y2="799.48" stroke="#111" stroke-width="1.1" stroke-linecap="butt"/>
<line x1="296.80" y1="790.45" x2="300.00" y2="790.45" stroke="#111" stroke-width="1.1" stroke-linecap="butt"/>
<line x1="296.80" y1="781.43" x2="300.00" y2="781.43" stroke="#111" stroke-width="1.1" stroke-linecap="butt"/>
<line x1="295.20" y1="772.40" x2="300.00" y2="772.40" stroke="#111" stroke-width="1.2" stroke-linecap="butt"/>
<text transform="translate(291.60 775.20) scale(1.15 1)" font-size="9.4" text-anchor="end" fill="#000" stroke="#000" stroke-width="0.1">400</text>
<line x1="296.80" y1="763.38" x2="300.00" y2="763.38" stroke="#111" stroke-width="1.1" stroke-linecap="butt"/>
<line x1="296.80" y1="754.35" x2="300.00" y2="754.35" stroke="#111" stroke-width="1.1" stroke-linecap="butt"/>
<line x1="296.80" y1="745.33" x2="300.00" y2="745.33" stroke="#111" stroke-width="1.1" stroke-linecap="butt"/>
<line x1="295.20" y1="736.30" x2="300.00" y2="736.30" stroke="#111" stroke-width="1.2" stroke-linecap="butt"/>
<text transform="translate(291.60 739.10) scale(1.15 1)" font-size="9.4" text-anchor="end" fill="#000" stroke="#000" stroke-width="0.1">600</text>
<line x1="296.80" y1="727.27" x2="300.00" y2="727.27" stroke="#111" stroke-width="1.1" stroke-linecap="butt"/>
<line x1="296.80" y1="718.25" x2="300.00" y2="718.25" stroke="#111" stroke-width="1.1" stroke-linecap="butt"/>
<line x1="296.80" y1="709.23" x2="300.00" y2="709.23" stroke="#111" stroke-width="1.1" stroke-linecap="butt"/>
<line x1="295.20" y1="700.20" x2="300.00" y2="700.20" stroke="#111" stroke-width="1.2" stroke-linecap="butt"/>
<text transform="translate(291.60 703.00) scale(1.15 1)" font-size="9.4" text-anchor="end" fill="#000" stroke="#000" stroke-width="0.1">800</text>
<line x1="296.80" y1="691.18" x2="300.00" y2="691.18" stroke="#111" stroke-width="1.1" stroke-linecap="butt"/>
<line x1="296.80" y1="682.15" x2="300.00" y2="682.15" stroke="#111" stroke-width="1.1" stroke-linecap="butt"/>
<line x1="296.80" y1="673.12" x2="300.00" y2="673.12" stroke="#111" stroke-width="1.1" stroke-linecap="butt"/>
<line x1="301.36" y1="844.60" x2="301.36" y2="847.40" stroke="#111" stroke-width="1.0" stroke-linecap="butt"/>
<line x1="305.58" y1="844.60" x2="305.58" y2="847.40" stroke="#111" stroke-width="1.0" stroke-linecap="butt"/>
<line x1="309.14" y1="844.60" x2="309.14" y2="847.40" stroke="#111" stroke-width="1.0" stroke-linecap="butt"/>
<line x1="312.23" y1="844.60" x2="312.23" y2="847.40" stroke="#111" stroke-width="1.0" stroke-linecap="butt"/>
<line x1="314.96" y1="844.60" x2="314.96" y2="847.40" stroke="#111" stroke-width="1.0" stroke-linecap="butt"/>
<line x1="317.40" y1="844.60" x2="317.40" y2="849.40" stroke="#111" stroke-width="1.2" stroke-linecap="butt"/>
<text transform="translate(318.00 865.00) scale(1.15 1)" font-size="9.6" text-anchor="middle" fill="#000" stroke="#000" stroke-width="0.1">10<tspan font-size="6.4" dy="-3.6">2</tspan></text>
<line x1="333.44" y1="844.60" x2="333.44" y2="847.40" stroke="#111" stroke-width="1.0" stroke-linecap="butt"/>
<line x1="342.83" y1="844.60" x2="342.83" y2="847.40" stroke="#111" stroke-width="1.0" stroke-linecap="butt"/>
<line x1="349.49" y1="844.60" x2="349.49" y2="847.40" stroke="#111" stroke-width="1.0" stroke-linecap="butt"/>
<line x1="354.66" y1="844.60" x2="354.66" y2="847.40" stroke="#111" stroke-width="1.0" stroke-linecap="butt"/>
<line x1="358.88" y1="844.60" x2="358.88" y2="847.40" stroke="#111" stroke-width="1.0" stroke-linecap="butt"/>
<line x1="362.44" y1="844.60" x2="362.44" y2="847.40" stroke="#111" stroke-width="1.0" stroke-linecap="butt"/>
<line x1="365.53" y1="844.60" x2="365.53" y2="847.40" stroke="#111" stroke-width="1.0" stroke-linecap="butt"/>
<line x1="368.26" y1="844.60" x2="368.26" y2="847.40" stroke="#111" stroke-width="1.0" stroke-linecap="butt"/>
<line x1="370.70" y1="844.60" x2="370.70" y2="849.40" stroke="#111" stroke-width="1.2" stroke-linecap="butt"/>
<text transform="translate(371.30 865.00) scale(1.15 1)" font-size="9.6" text-anchor="middle" fill="#000" stroke="#000" stroke-width="0.1">10<tspan font-size="6.4" dy="-3.6">3</tspan></text>
<line x1="387.29" y1="844.60" x2="387.29" y2="847.40" stroke="#111" stroke-width="1.0" stroke-linecap="butt"/>
<line x1="396.99" y1="844.60" x2="396.99" y2="847.40" stroke="#111" stroke-width="1.0" stroke-linecap="butt"/>
<line x1="403.87" y1="844.60" x2="403.87" y2="847.40" stroke="#111" stroke-width="1.0" stroke-linecap="butt"/>
<line x1="409.21" y1="844.60" x2="409.21" y2="847.40" stroke="#111" stroke-width="1.0" stroke-linecap="butt"/>
<line x1="413.58" y1="844.60" x2="413.58" y2="847.40" stroke="#111" stroke-width="1.0" stroke-linecap="butt"/>
<line x1="417.26" y1="844.60" x2="417.26" y2="847.40" stroke="#111" stroke-width="1.0" stroke-linecap="butt"/>
<line x1="420.46" y1="844.60" x2="420.46" y2="847.40" stroke="#111" stroke-width="1.0" stroke-linecap="butt"/>
<line x1="423.28" y1="844.60" x2="423.28" y2="847.40" stroke="#111" stroke-width="1.0" stroke-linecap="butt"/>
<line x1="425.80" y1="844.60" x2="425.80" y2="849.40" stroke="#111" stroke-width="1.2" stroke-linecap="butt"/>
<text transform="translate(426.40 865.00) scale(1.15 1)" font-size="9.6" text-anchor="middle" fill="#000" stroke="#000" stroke-width="0.1">10<tspan font-size="6.4" dy="-3.6">4</tspan></text>
<line x1="442.00" y1="844.60" x2="442.00" y2="847.40" stroke="#111" stroke-width="1.0" stroke-linecap="butt"/>
<line x1="451.47" y1="844.60" x2="451.47" y2="847.40" stroke="#111" stroke-width="1.0" stroke-linecap="butt"/>
<line x1="458.19" y1="844.60" x2="458.19" y2="847.40" stroke="#111" stroke-width="1.0" stroke-linecap="butt"/>
<line x1="463.40" y1="844.60" x2="463.40" y2="847.40" stroke="#111" stroke-width="1.0" stroke-linecap="butt"/>
<line x1="467.66" y1="844.60" x2="467.66" y2="847.40" stroke="#111" stroke-width="1.0" stroke-linecap="butt"/>
<line x1="471.27" y1="844.60" x2="471.27" y2="847.40" stroke="#111" stroke-width="1.0" stroke-linecap="butt"/>
<line x1="474.39" y1="844.60" x2="474.39" y2="847.40" stroke="#111" stroke-width="1.0" stroke-linecap="butt"/>
<line x1="477.14" y1="844.60" x2="477.14" y2="847.40" stroke="#111" stroke-width="1.0" stroke-linecap="butt"/>
<line x1="479.60" y1="844.60" x2="479.60" y2="849.40" stroke="#111" stroke-width="1.2" stroke-linecap="butt"/>
<text transform="translate(480.20 865.00) scale(1.15 1)" font-size="9.6" text-anchor="middle" fill="#000" stroke="#000" stroke-width="0.1">10<tspan font-size="6.4" dy="-3.6">5</tspan></text>
<line x1="495.80" y1="844.60" x2="495.80" y2="847.40" stroke="#111" stroke-width="1.0" stroke-linecap="butt"/>
<line x1="361.50" y1="697.80" x2="503.40" y2="697.80" stroke="#111" stroke-width="1.2" stroke-linecap="butt"/>
<line x1="361.50" y1="694.40" x2="361.50" y2="701.20" stroke="#111" stroke-width="1.2" stroke-linecap="butt"/>
<text x="429" y="681.4" font-size="9.6" text-anchor="middle" font-weight="normal" fill="#000" stroke="#000" stroke-width="0.12">CD11b<tspan font-size="7.5" dy="-3.3">+</tspan><tspan dy="3.3"> Subset</tspan></text>
<text x="429" y="693.2" font-size="9.6" text-anchor="middle" font-weight="normal" fill="#000" stroke="#000" stroke-width="0.12">30.0</text>
<text x="438" y="715" font-size="9.6" text-anchor="middle" font-weight="normal" fill="#000" stroke="#000" stroke-width="0.12">KDM5A KO1</text>
<text x="267.70000000000005" y="756" font-size="12.4" text-anchor="middle" font-weight="bold" fill="#000" transform="rotate(-90 267.70000000000005 756)" textLength="36.3" lengthAdjust="spacingAndGlyphs">Cell count</text>
<text x="401.2" y="878.9" font-size="12.4" text-anchor="middle" font-weight="bold" fill="#000" textLength="22.6" lengthAdjust="spacingAndGlyphs">CD11b</text>
<rect x="0.75" y="0.75" width="518.5" height="887.5" fill="none" stroke="#111" stroke-width="1.5"/>
</svg>
</div>
</body></html>
